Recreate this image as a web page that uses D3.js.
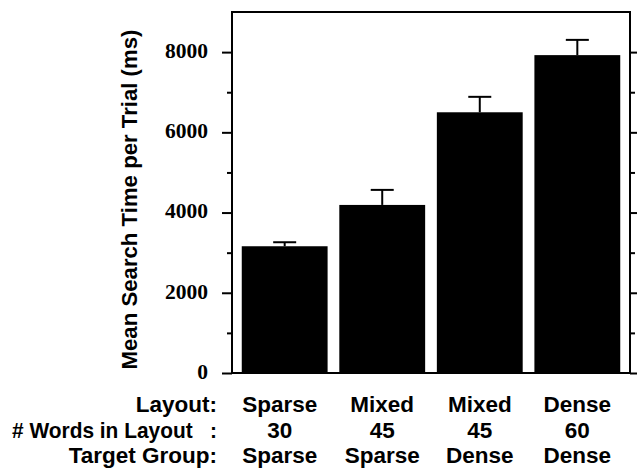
<!DOCTYPE html>
<html>
<head>
<meta charset="utf-8">
<script src="https://cdn.jsdelivr.net/npm/d3@7"></script>
<style>
  html, body { margin: 0; padding: 0; background: #fff; }
  svg { display: block; }
</style>
</head>
<body>
<div id="chart"></div>
<script>
// ---- Data ----
const layoutLabels = ["Sparse", "Mixed", "Mixed", "Dense"];
const wordCounts = ["30", "45", "45", "60"];
const targetGroups = ["Sparse", "Sparse", "Dense", "Dense"];
const rowLabels = ["Layout:", "# Words in Layout   :", "Target Group:"];
const meanTimes = [3160, 4190, 6500, 7925];
const errorValues = [100, 375, 385, 380];
const majorTicks = [0, 2000, 4000, 6000, 8000];
const minorTicks = [1000, 3000, 5000, 7000];
const yTitle = "Mean Search Time per Trial (ms)";

// ---- Layout ----
const W = 637, H = 473;
const plot = { left: 232, right: 630, top: 12, bottom: 373 };
const sansFont = "'Liberation Sans', Arial, Helvetica, sans-serif";
const serifFont = "'Liberation Serif', 'Times New Roman', Times, serif";

const svg = d3.select("#chart").append("svg")
  .attr("width", W).attr("height", H);

const idx = d3.range(meanTimes.length);

const x = d3.scaleBand()
  .domain(idx)
  .range([plot.left, plot.right])
  .paddingInner(0.12)
  .paddingOuter(0.1);

const y = d3.scaleLinear()
  .domain([0, 9000])
  .range([plot.bottom, plot.top]);

// Bars
svg.append("g").selectAll("rect")
  .data(idx)
  .join("rect")
  .attr("x", i => x(i))
  .attr("width", x.bandwidth())
  .attr("y", i => y(meanTimes[i]))
  .attr("height", i => y(0) - y(meanTimes[i]))
  .attr("fill", "#000");

// Error bars (upper only)
const capW = 23;
const eb = svg.append("g").attr("stroke", "#000").attr("stroke-width", 2);
eb.selectAll("line.stem")
  .data(idx)
  .join("line")
  .attr("class", "stem")
  .attr("x1", i => x(i) + x.bandwidth() / 2)
  .attr("x2", i => x(i) + x.bandwidth() / 2)
  .attr("y1", i => y(meanTimes[i]))
  .attr("y2", i => y(meanTimes[i] + errorValues[i]));
eb.selectAll("line.cap")
  .data(idx)
  .join("line")
  .attr("class", "cap")
  .attr("x1", i => x(i) + x.bandwidth() / 2 - capW / 2)
  .attr("x2", i => x(i) + x.bandwidth() / 2 + capW / 2)
  .attr("y1", i => y(meanTimes[i] + errorValues[i]))
  .attr("y2", i => y(meanTimes[i] + errorValues[i]));

// Axes: left major with labels
const leftMajor = svg.append("g")
  .attr("transform", `translate(${plot.left},0)`)
  .call(d3.axisLeft(y).tickValues(majorTicks).tickSize(10).tickPadding(14).tickFormat(d3.format("d")));
leftMajor.select(".domain").remove();
leftMajor.selectAll(".tick line").attr("stroke-width", 2);
leftMajor.selectAll(".tick text")
  .attr("dy", "0.25em")
  .attr("font-family", serifFont)
  .attr("font-weight", "bold")
  .attr("font-size", 21.5)
  .attr("fill", "#000");

// Left minor ticks
const leftMinor = svg.append("g")
  .attr("transform", `translate(${plot.left},0)`)
  .call(d3.axisLeft(y).tickValues(minorTicks).tickSize(5).tickFormat(""));
leftMinor.select(".domain").remove();
leftMinor.selectAll(".tick line").attr("stroke-width", 2);

// Right ticks
const rightMajor = svg.append("g")
  .attr("transform", `translate(${plot.right},0)`)
  .call(d3.axisRight(y).tickValues(majorTicks).tickSize(7).tickFormat(""));
rightMajor.select(".domain").remove();
rightMajor.selectAll(".tick line").attr("stroke-width", 2);
const rightMinor = svg.append("g")
  .attr("transform", `translate(${plot.right},0)`)
  .call(d3.axisRight(y).tickValues(minorTicks).tickSize(5).tickFormat(""));
rightMinor.select(".domain").remove();
rightMinor.selectAll(".tick line").attr("stroke-width", 2);

// Frame
svg.append("rect")
  .attr("x", plot.left).attr("y", plot.top)
  .attr("width", plot.right - plot.left)
  .attr("height", plot.bottom - plot.top)
  .attr("fill", "none")
  .attr("stroke", "#000")
  .attr("stroke-width", 2);

// Y title
svg.append("text")
  .attr("transform", `translate(137,199.5) rotate(-90)`)
  .attr("text-anchor", "middle")
  .attr("font-family", sansFont)
  .attr("font-weight", "bold")
  .attr("font-size", 22.2)
  .attr("fill", "#000")
  .text(yTitle);

// Bottom category table
const rows = [layoutLabels, wordCounts, targetGroups];
const rowBaselines = [412, 438, 463];
const labelSize = 22.5;
const labelRight = 217, labelMinLeft = 12;
rows.forEach((vals, r) => {
  const t = svg.append("text")
    .attr("x", labelRight)
    .attr("y", rowBaselines[r])
    .attr("text-anchor", "end")
    .attr("font-family", sansFont)
    .attr("font-weight", "bold")
    .attr("font-size", labelSize)
    .style("white-space", "pre")
    .attr("fill", "#000")
    .text(rowLabels[r]);
  const len = t.node().getComputedTextLength();
  if (len > labelRight - labelMinLeft) {
    t.attr("textLength", labelRight - labelMinLeft)
     .attr("lengthAdjust", "spacingAndGlyphs");
  }
  svg.append("g").selectAll("text")
    .data(idx)
    .join("text")
    .attr("x", i => x(i) + x.bandwidth() / 2 - (i === 0 ? 5 : 0))
    .attr("y", rowBaselines[r])
    .attr("text-anchor", "middle")
    .attr("font-family", sansFont)
    .attr("font-weight", "bold")
    .attr("font-size", labelSize)
    .attr("fill", "#000")
    .text(i => vals[i]);
});
</script>
</body>
</html>
